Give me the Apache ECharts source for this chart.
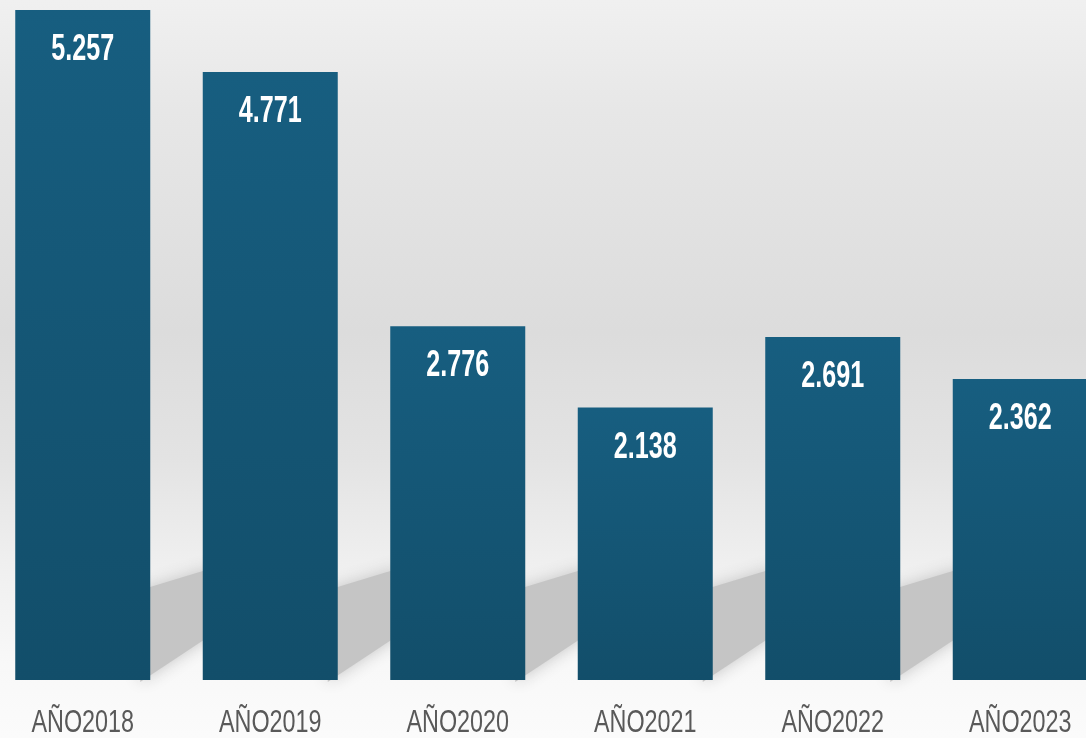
<!DOCTYPE html>
<html>
<head>
<meta charset="utf-8">
<script src="https://cdn.jsdelivr.net/npm/echarts@6/dist/echarts.min.js"></script>
<style>
  html, body { margin: 0; padding: 0; width: 1086px; height: 738px; overflow: hidden; position: relative; background: #fbfbfb; }
  /* chart box is a bit wider than the window: first and last bars touch the edges */
  #main { position: absolute; left: -11px; top: 0; width: 1125px; height: 738px; }
</style>
</head>
<body>
<div id="main"></div>
<script>
  var years = ['AÑO2018', 'AÑO2019', 'AÑO2020', 'AÑO2021', 'AÑO2022', 'AÑO2023'];
  var values = [5257, 4771, 2776, 2138, 2691, 2362];

  var barW = 135;
  var font = '"Liberation Sans", Arial, sans-serif';

  function fmt(v) {
    return String(v).replace(/\B(?=(\d{3})+(?!\d))/g, '.');
  }

  var myChart = echarts.init(document.getElementById('main'));

  // soft slanted shadow in the gap left of each bar (skip the first)
  function renderShadow(params, api) {
    var idx = api.value(0);
    if (idx === 0) return;
    var base = api.coord([idx, 0]);
    var band = api.size([1, 0])[0];
    var gL = base[0] - band + barW / 2;
    var gR = base[0] - barW / 2;
    var y = base[1];
    return {
      type: 'polygon',
      shape: {
        points: [
          [gL - 10, y - 90], [gR + 10, y - 112], [gR + 10, y - 46], [gL - 10, y + 2]
        ]
      },
      style: {
        fill: '#c5c5c5',
        shadowBlur: 16,
        shadowColor: '#c5c5c5'
      }
    };
  }

  // condensed labels: value inside the top of the bar, year under the bar
  function renderLabels(params, api) {
    var idx = api.value(0);
    var top = api.coord([idx, api.value(1)]);
    var base = api.coord([idx, 0]);
    return {
      type: 'group',
      children: [
        {
          type: 'text',
          x: top[0], y: top[1] + 40,
          scaleX: 0.68,
          style: {
            text: fmt(api.value(1)),
            fill: '#ffffff',
            font: 'bold 37px ' + font,
            align: 'center',
            verticalAlign: 'middle'
          }
        },
        {
          type: 'text',
          x: base[0], y: base[1] + 43,
          scaleX: 0.73,
          style: {
            text: years[idx],
            fill: '#595959',
            font: '32px ' + font,
            align: 'center',
            verticalAlign: 'middle'
          }
        }
      ]
    };
  }

  var pts = values.map(function (v, i) { return [i, v]; });

  var option = {
    backgroundColor: {
      type: 'linear', x: 0, y: 0, x2: 0, y2: 1,
      colorStops: [
        { offset: 0, color: '#f0f0f0' },
        { offset: 0.15, color: '#e7e7e7' },
        { offset: 0.45, color: '#dcdcdc' },
        { offset: 0.62, color: '#e3e3e3' },
        { offset: 0.76, color: '#efefef' },
        { offset: 0.9, color: '#f8f8f8' },
        { offset: 1, color: '#fbfbfb' }
      ]
    },
    animation: false,
    grid: { left: 0, right: 0, top: 10, bottom: 58 },
    xAxis: {
      type: 'category',
      data: years,
      axisLine: { show: false },
      axisTick: { show: false },
      axisLabel: { show: false }
    },
    yAxis: {
      type: 'value',
      min: 0,
      max: 5257,
      show: false,
      splitLine: { show: false }
    },
    series: [
      {
        type: 'custom',
        renderItem: renderShadow,
        data: pts,
        z: 1,
        silent: true
      },
      {
        type: 'bar',
        data: values,
        barWidth: barW,
        z: 2,
        itemStyle: {
          color: {
            type: 'linear', x: 0, y: 0, x2: 0, y2: 1,
            colorStops: [
              { offset: 0, color: '#175e80' },
              { offset: 1, color: '#124e6a' }
            ]
          }
        }
      },
      {
        type: 'custom',
        renderItem: renderLabels,
        data: pts,
        clip: false,
        z: 3,
        silent: true
      }
    ]
  };

  myChart.setOption(option);
</script>
</body>
</html>
